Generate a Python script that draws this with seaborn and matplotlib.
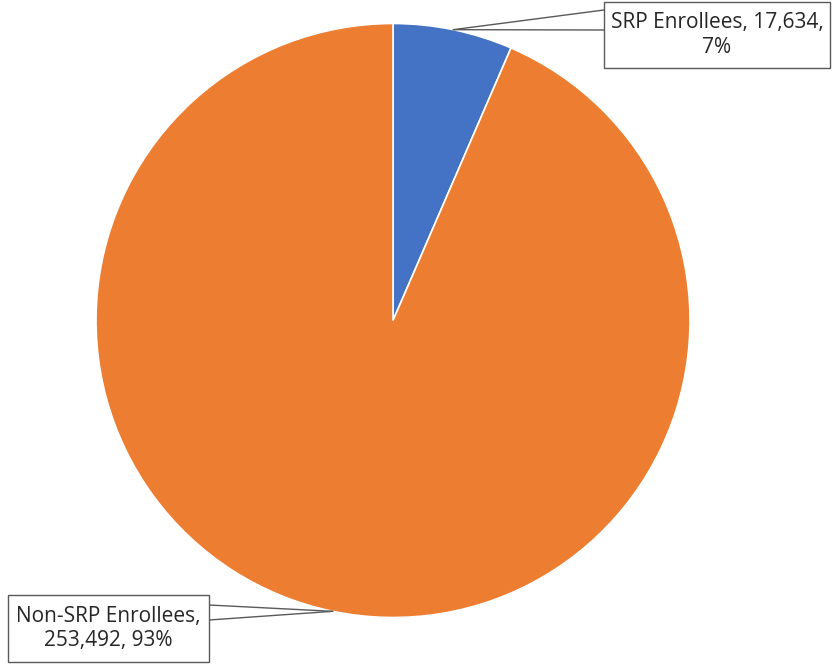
import numpy as np
import matplotlib
matplotlib.use("Agg")
import matplotlib.pyplot as plt
from matplotlib.patches import Rectangle
import seaborn as sns

# Enrollment breakdown
labels = ["SRP Enrollees", "Non-SRP Enrollees"]
counts = [17634, 253492]
colors = ["#4472C4", "#ED7D31"]

sns.set_theme(style="white")
plt.rcParams["font.family"] = ["Open Sans", "DejaVu Sans"]

W, H = 836, 664
fig = plt.figure(figsize=(W / 100, H / 100), dpi=100)
ax = fig.add_axes([0, 0, 1, 1])
ax.set_xlim(0, W)
ax.set_ylim(0, H)
ax.set_aspect("equal")
ax.axis("off")

cx, cy, r = 393, H - 320.5, 297
wedges, _ = ax.pie(counts, colors=colors, startangle=90, counterclock=False,
                   center=(cx, cy), radius=r,
                   wedgeprops=dict(edgecolor="white", linewidth=1.2))
ax.set_xlim(0, W)
ax.set_ylim(0, H)

total = sum(counts)
pcts = [c / total * 100 for c in counts]

# Callout boxes: (left, bottom, width, height) in pixels, leader attach points on box edge
boxes = [
    dict(rect=(604, H - 68, 226, 66), attach=[(604, H - 10), (604, H - 30)],
         text=f"{labels[0]}, {counts[0]:,},\n{pcts[0]:.0f}%"),
    dict(rect=(8, H - 662, 201, 67), attach=[(209, H - 605), (209, H - 620)],
         text=f"{labels[1]},\n{counts[1]:,}, {pcts[1]:.0f}%"),
]

edge = "#595959"
start = 0.0
for i, b in enumerate(boxes):
    frac = counts[i] / total
    mid = np.deg2rad((start + frac / 2) * 360)
    start += frac
    px, py = cx + r * np.sin(mid), cy + r * np.cos(mid)
    x0, y0, w, h = b["rect"]
    for ax_, ay_ in b["attach"]:
        ax.plot([ax_, px], [ay_, py], color=edge, lw=1.0, zorder=3)
    ax.add_patch(Rectangle((x0, y0), w, h, facecolor="white", edgecolor=edge,
                           lw=1.0, zorder=4))
    ax.text(x0 + w / 2, y0 + h / 2, b["text"], ha="center", va="center",
            fontsize=15, color="#262626", linespacing=1.2, zorder=5)

fig.savefig("out.png", dpi=100)
